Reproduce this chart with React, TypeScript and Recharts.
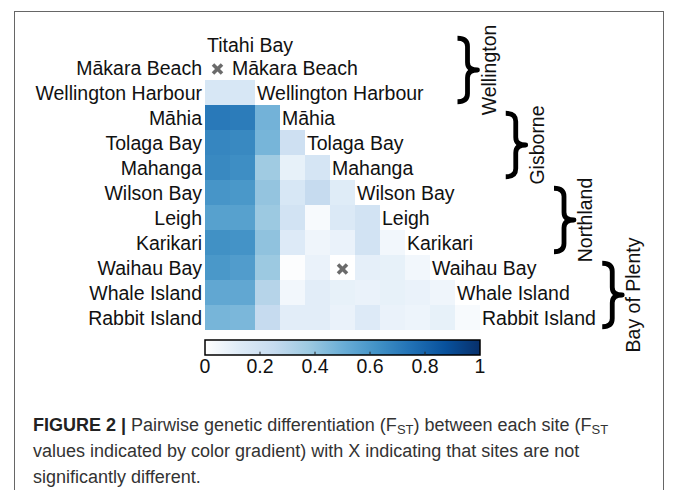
import React from 'react';
import { ScatterChart, Scatter, XAxis, YAxis, ReferenceArea, ReferenceLine } from 'recharts';

// ---------- data ----------
const SITES: string[] = [
  'Titahi Bay', 'Mākara Beach', 'Wellington Harbour', 'Māhia', 'Tolaga Bay', 'Mahanga',
  'Wilson Bay', 'Leigh', 'Karikari', 'Waihau Bay', 'Whale Island', 'Rabbit Island',
];

// lower-triangle pairwise FST, row i holds columns 0..i-1
const FST_ROWS: number[][] = [
  [],
  [0.0],
  [0.16, 0.16],
  [0.72, 0.71, 0.48],
  [0.67, 0.66, 0.47, 0.21],
  [0.66, 0.64, 0.37, 0.09, 0.17],
  [0.61, 0.6, 0.4, 0.16, 0.25, 0.12],
  [0.56, 0.56, 0.38, 0.19, 0.03, 0.14, 0.19],
  [0.63, 0.62, 0.41, 0.13, 0.06, 0.08, 0.19, 0.05],
  [0.6, 0.58, 0.38, 0.01, 0.08, 0.0, 0.1, 0.09, 0.05],
  [0.53, 0.53, 0.3, 0.05, 0.11, 0.09, 0.08, 0.09, 0.08, 0.06],
  [0.47, 0.46, 0.25, 0.11, 0.11, 0.08, 0.13, 0.08, 0.07, 0.09, 0.03],
];

// [row, col] pairs not significantly different
const NON_SIG: number[][] = [[1, 0], [9, 5]];

const REGIONS = ['Wellington', 'Gisborne', 'Northland', 'Bay of Plenty'];
const REGION_FIRST_ROW = [0, 3, 6, 9];
const REGION_LAST_ROW = [2, 5, 8, 11];

const COLORBAR_TICKS = [0, 0.2, 0.4, 0.6, 0.8, 1];
const BLUES = ['#ffffff', '#deebf7', '#c6dbef', '#9ecae1', '#6baed6', '#4292c6', '#2171b5', '#08519c', '#08306b'];

// ---------- layout ----------
const W = 676;
const H = 490;
const FONT = "'Liberation Sans', Arial, Helvetica, sans-serif";
const FS = 19.5;
const CELL = 25; // plot width / number of columns
const X_COLS = 18;
const GRID_LEFT = 205;
const GRID_TOP = 30;
const BRACE_X0 = 10.1;
const BRACE_STEP = 1.93;

function hexToRgb(h: string) {
  return [parseInt(h.slice(1, 3), 16), parseInt(h.slice(3, 5), 16), parseInt(h.slice(5, 7), 16)];
}
function blues(v: number) {
  const t = Math.max(0, Math.min(1, v)) * (BLUES.length - 1);
  const i = Math.min(BLUES.length - 2, Math.floor(t));
  const f = t - i;
  const a = hexToRgb(BLUES[i]);
  const b = hexToRgb(BLUES[i + 1]);
  const c = a.map((x, k) => Math.round(x + (b[k] - x) * f));
  return `rgb(${c[0]},${c[1]},${c[2]})`;
}

const cellData = FST_ROWS.flatMap((row, r) => row.map((v, c) => ({ x: c + 0.5, y: r + 0.5, v })));
const nonSigData = NON_SIG.map(([r, c]) => ({ x: c + 0.5, y: r + 0.5 }));
const diagLabels = SITES.map((name, i) => ({ x: i, y: i + 0.5, name }));
const leftLabels = SITES.slice(1).map((name, i) => ({ x: 0, y: i + 1.5, name }));
const regionData = REGIONS.map((name, k) => ({
  x: BRACE_X0 + k * BRACE_STEP,
  y: (REGION_FIRST_ROW[k] + REGION_LAST_ROW[k] + 1) / 2 + 0.1,
  rows: REGION_LAST_ROW[k] - REGION_FIRST_ROW[k] + 1,
  name,
}));

const CellShape = (p: any) => (
  <rect
    x={p.cx - CELL / 2}
    y={p.cy - CELL / 2}
    width={CELL + 0.4}
    height={CELL + 0.4}
    fill={blues(p.payload.v)}
    shapeRendering="crispEdges"
  />
);

const XShape = (p: any) => {
  const s = 4.5;
  const cy = p.cy + 1.5;
  return (
    <g stroke="#6b6b6b" strokeWidth={3.6} strokeLinecap="butt">
      <line x1={p.cx - s} y1={cy - s} x2={p.cx + s} y2={cy + s} />
      <line x1={p.cx - s} y1={cy + s} x2={p.cx + s} y2={cy - s} />
    </g>
  );
};

const DiagLabel = (p: any) => (
  <text x={p.cx + 2} y={p.cy + 7 + (p.payload.y < 1 ? 2 : 0)} fontSize={FS} fontFamily={FONT} fill="#111" textAnchor="start">
    {p.payload.name}
  </text>
);

const LeftLabel = (p: any) => (
  <text x={p.cx - 3} y={p.cy + 7} fontSize={FS} fontFamily={FONT} fill="#111" textAnchor="end">
    {p.payload.name}
  </text>
);

const BraceShape = (p: any) => {
  const h = (p.payload.rows - 0.38) * CELL;
  const top = p.cy - h / 2;
  const bot = p.cy + h / 2;
  const mid = p.cy;
  const x0 = p.cx;
  const w = 20;
  const xm = x0 + w * 0.5;
  const d = [
    `M ${x0} ${top + 1}`,
    `Q ${xm} ${top + 1} ${xm} ${top + h * 0.14}`,
    `L ${xm} ${mid - h * 0.12}`,
    `Q ${xm} ${mid} ${x0 + w} ${mid}`,
    `Q ${xm} ${mid} ${xm} ${mid + h * 0.12}`,
    `L ${xm} ${bot - h * 0.14}`,
    `Q ${xm} ${bot - 1} ${x0} ${bot - 1}`,
  ].join(' ');
  return (
    <g>
      <path d={d} fill="none" stroke="#000" strokeWidth={4.8} strokeLinejoin="round" />
      <text
        x={x0 + 38}
        y={mid}
        transform={`rotate(-90 ${x0 + 38} ${mid})`}
        fontSize={FS}
        fontFamily={FONT}
        fill="#111"
        textAnchor="middle"
      >
        {p.payload.name}
      </text>
    </g>
  );
};

const Empty = () => <g />;

const subStyle: React.CSSProperties = { fontSize: 13, verticalAlign: '-3px', lineHeight: 0 };

export default function App() {
  const stops = BLUES.map((c, i) => ({ x: i / (BLUES.length - 1), y: 0.5, c }));
  return (
    <div style={{ position: 'absolute', left: 0, top: 0, width: W, height: H, overflow: 'hidden', background: '#fff' }}>
      <div
        style={{
          position: 'absolute', left: 14, top: 11, width: 650, height: 520,
          border: '1px solid #666', boxSizing: 'border-box',
        }}
      />
      <div style={{ position: 'absolute', left: 0, top: 0 }}>
        <ScatterChart
          width={W}
          height={H}
          margin={{ top: GRID_TOP, right: W - GRID_LEFT - X_COLS * CELL, bottom: H - GRID_TOP - 12 * CELL, left: GRID_LEFT }}
        >
          <XAxis type="number" dataKey="x" domain={[0, X_COLS]} hide />
          <YAxis type="number" dataKey="y" domain={[0, 12]} reversed hide />
          <Scatter data={cellData} shape={CellShape} isAnimationActive={false} />
          <Scatter data={nonSigData} shape={XShape} isAnimationActive={false} />
          <Scatter data={diagLabels} shape={DiagLabel} isAnimationActive={false} />
          <Scatter data={leftLabels} shape={LeftLabel} isAnimationActive={false} />
          <Scatter data={regionData} shape={BraceShape} isAnimationActive={false} />
        </ScatterChart>
      </div>
      <div style={{ position: 'absolute', left: 0, top: 0 }}>
        <ScatterChart width={W} height={H} margin={{ top: 340, right: W - 480, bottom: H - 355 - 30, left: 205 }}>
          <defs>
            <linearGradient id="cbGrad" x1="0" y1="0" x2="1" y2="0">
              {stops.map((s) => (
                <stop key={s.x} offset={`${s.x * 100}%`} stopColor={s.c} />
              ))}
            </linearGradient>
          </defs>
          <XAxis
            type="number"
            dataKey="x"
            domain={[0, 1]}
            ticks={COLORBAR_TICKS}
            height={30}
            axisLine={false}
            tickLine={false}
            tickSize={4}
            tickMargin={0}
            interval={0}
            tickFormatter={(v: number) => String(v)}
            tick={{ fontSize: FS, fontFamily: FONT, fill: '#111' }}
          />
          <YAxis type="number" dataKey="y" domain={[0, 1]} hide />
          <ReferenceArea x1={0} x2={1} y1={0} y2={1} fill="url(#cbGrad)" fillOpacity={1} stroke="#000" strokeWidth={1.5} ifOverflow="visible" />
          {COLORBAR_TICKS.slice(1, -1).map((t) => (
            <ReferenceLine key={t} segment={[{ x: t, y: 0 }, { x: t, y: 0.22 }]} stroke="#222" strokeWidth={1} />
          ))}
          <Scatter data={stops} shape={Empty} isAnimationActive={false} />
        </ScatterChart>
      </div>
      <div
        style={{
          position: 'absolute', left: 33, top: 412, width: 600, fontFamily: FONT, fontSize: 18,
          lineHeight: '26px', color: '#333',
        }}
      >
        <span style={{ fontWeight: 'bold', color: '#222' }}>FIGURE 2 | </span>
        Pairwise genetic differentiation (F<sub style={subStyle}>ST</sub>) between each site (F
        <sub style={subStyle}>ST</sub> values indicated by color gradient) with X indicating that sites are not
        significantly different.
      </div>
    </div>
  );
}
